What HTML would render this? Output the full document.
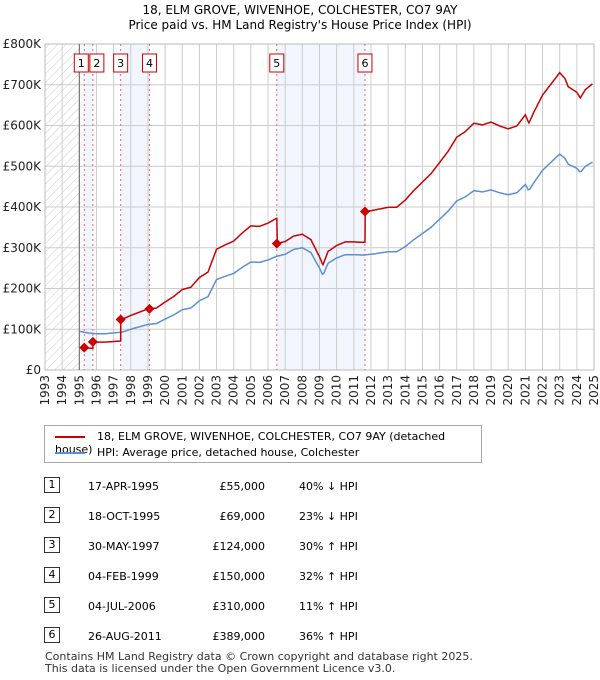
<!DOCTYPE html>
<html><head><meta charset="utf-8"><style>
body{margin:0;background:#fff;font-family:"DejaVu Sans","Liberation Sans",sans-serif;width:600px;height:680px;overflow:hidden;position:relative}
.t{position:absolute;font-size:12px;color:#000}
.row{position:absolute;left:0;width:600px;height:20px;font-size:11px}
.row span{position:absolute;top:3px}
.num{left:44px;width:14px;height:14px;border:1px solid #333;text-align:center;line-height:14px;top:0!important}
</style></head><body>
<div class="t" style="left:0;width:600px;text-align:center;top:3px;line-height:15px">18, ELM GROVE, WIVENHOE, COLCHESTER, CO7 9AY<br>Price paid vs. HM Land Registry's House Price Index (HPI)</div>
<svg id="c" width="600" height="420" style="position:absolute;left:0;top:0;font-family:'DejaVu Sans',sans-serif"></svg>
<div style="position:absolute;left:44px;top:425px;width:436px;height:36px;border:1px solid #aaa;font-size:11px">
<div style="position:absolute;left:10px;top:4px"><span style="display:inline-block;width:30px;border-top:2px solid #cc0000;vertical-align:middle;margin-right:12px"></span>18, ELM GROVE, WIVENHOE, COLCHESTER, CO7 9AY (detached house)</div>
<div style="position:absolute;left:10px;top:20px"><span style="display:inline-block;width:30px;border-top:2px solid #5a8fd6;vertical-align:middle;margin-right:12px"></span>HPI: Average price, detached house, Colchester</div>
</div>
<div id="tbl"></div>
<div class="t" style="left:45px;top:651px;font-size:11px;line-height:12px;color:#333">Contains HM Land Registry data © Crown copyright and database right 2025.<br>This data is licensed under the Open Government Licence v3.0.</div>
<script>
const hpiYears=[1995,1995.5,1996,1996.5,1997,1997.5,1998,1998.5,1999,1999.5,2000,2000.5,2001,2001.5,2002,2002.5,2003,2003.5,2004,2004.5,2005,2005.5,2006,2006.5,2007,2007.5,2008,2008.5,2009,2009.2,2009.5,2010,2010.5,2011,2011.5,2012,2012.5,2013,2013.5,2014,2014.5,2015,2015.5,2016,2016.5,2017,2017.5,2018,2018.5,2019,2019.5,2020,2020.5,2021,2021.2,2021.5,2022,2022.5,2023,2023.3,2023.5,2024,2024.2,2024.5,2024.9];
const hpiValues=[95,91,89,89,91,93,100,106,112,114,125,135,148,152,170,180,222,230,237,252,265,264,270,279,284,296,300,288,250,232,262,275,283,283,282,284,287,290,290,303,320,335,350,370,390,415,425,440,437,442,435,430,435,455,440,460,490,510,530,520,505,495,485,500,510];
const saleDates=[1995.29,1995.79,1997.41,1999.09,2006.51,2011.65];
const saleLabels=["17-APR-1995","18-OCT-1995","30-MAY-1997","04-FEB-1999","04-JUL-2006","26-AUG-2011"];
const salePrices=[55,69,124,150,310,389];
const hpiDiff=["40% ↓ HPI","23% ↓ HPI","30% ↑ HPI","32% ↑ HPI","11% ↑ HPI","36% ↑ HPI"];
const yTicks=[0,100,200,300,400,500,600,700,800];
const X0=45,X1=594,Y0=370,Y1=44;
const xs=y=>X0+(y-1993)/32*(X1-X0);
const ys=v=>Y0-v/800*(Y0-Y1);
const hpiAt=t=>{if(t<=hpiYears[0])return hpiValues[0];for(let i=1;i<hpiYears.length;i++){if(t<=hpiYears[i]){const f=(t-hpiYears[i-1])/(hpiYears[i]-hpiYears[i-1]);return hpiValues[i-1]+f*(hpiValues[i]-hpiValues[i-1]);}}return hpiValues[hpiValues.length-1];};
const svg=document.getElementById('c');const NS="http://www.w3.org/2000/svg";
function mk(tag,at,name){const e=document.createElementNS(NS,tag);for(const k in at)e.setAttribute(k,at[k]);


svg.appendChild(e);return e;}
const defs=document.createElementNS(NS,'defs');defs.innerHTML='<pattern id="h" width="6" height="6" patternUnits="userSpaceOnUse" patternTransform="rotate(45)"><line x1="0" y1="0" x2="0" y2="6" stroke="#ccc" stroke-width="1"/></pattern>';svg.appendChild(defs);
mk('rect',{x:X0,y:Y1,width:xs(1995)-X0,height:Y0-Y1,fill:'url(#h)'},'pre-data-hatch');
for(let i=0;i<6;i+=2)mk('rect',{x:xs(saleDates[i]),y:Y1,width:xs(saleDates[i+1])-xs(saleDates[i]),height:Y0-Y1,fill:'#eef3fd',opacity:0.8},'sale-period-shade');
for(let y=1993;y<=2025;y++){mk('line',{x1:xs(y),x2:xs(y),y1:Y1,y2:Y0,stroke:'#ccc'},'x-gridline');
const t=mk('text',{x:0,y:0,transform:`translate(${xs(y)+4},${Y0+5}) rotate(-90)`,'text-anchor':'end','font-size':12,fill:'#222'},'x-tick-label');t.textContent=y;}
yTicks.forEach(v=>{mk('line',{x1:X0,x2:X1,y1:ys(v),y2:ys(v),stroke:'#ccc'},'y-gridline');
const t=mk('text',{x:X0-4,y:ys(v)+4,'text-anchor':'end','font-size':12,fill:'#222'},'y-tick-label');t.textContent=v==0?'£0':'£'+v+'K';});
mk('rect',{x:X0,y:Y1,width:X1-X0,height:Y0-Y1,fill:'none',stroke:'#bbb'},'plot-border');
mk('line',{x1:xs(1995),x2:xs(1995),y1:Y1,y2:Y0,stroke:'#666'},'data-start-line');
saleDates.forEach(d=>mk('line',{x1:xs(d),x2:xs(d),y1:Y1,y2:Y0,stroke:'#e66','stroke-dasharray':'2,3'},'sale-marker-line'));
let hp=[];for(let t=1995;t<=2024.95;t+=1/12)hp.push(xs(t).toFixed(1)+','+ys(hpiAt(t)).toFixed(1));
mk('polyline',{points:hp.join(' '),fill:'none',stroke:'#5a8fd6','stroke-width':1.5},'hpi-line');
let rp=[];for(let t=saleDates[0];t<=2024.95;t+=1/24){let k=0;for(let i=0;i<6;i++)if(t>=saleDates[i])k=i;
if(k>0&&t-saleDates[k]<1/24){const pr=salePrices[k-1]/hpiAt(saleDates[k-1]);rp.push(xs(saleDates[k]).toFixed(1)+','+ys(hpiAt(saleDates[k])*pr).toFixed(1));}
const r=salePrices[k]/hpiAt(saleDates[k]);rp.push(xs(t).toFixed(1)+','+ys(hpiAt(t)*r).toFixed(1));}
mk('polyline',{points:rp.join(' '),fill:'none',stroke:'#cc0000','stroke-width':1.5},'property-price-line');
saleDates.forEach((d,i)=>{const x=xs(d),y=ys(salePrices[i]);mk('path',{d:`M${x},${y-5}L${x+5},${y}L${x},${y+5}L${x-5},${y}Z`,fill:'#cc0000'},'sale-point');
const bx=x-(i==0?9:i==1?2:6);mk('rect',{x:bx-1,y:54,width:14,height:18,fill:'#fff',stroke:'#cc0000'},'sale-label-box');
const t=mk('text',{x:bx+6,y:67,'text-anchor':'middle','font-size':11,fill:'#000'},'sale-label');t.textContent=i+1;});
const tb=document.getElementById('tbl');const rowsY=[477,507,537,567,597,627];
saleDates.forEach((d,i)=>{const r=document.createElement('div');r.className='row';r.style.top=rowsY[i]+'px';


r.innerHTML=`<span class="num">${i+1}</span><span style="left:88px">${saleLabels[i]}</span><span style="left:185px;width:80px;text-align:right">£${salePrices[i].toLocaleString('en-GB')},000</span><span style="left:299px">${hpiDiff[i]}</span>`;tb.appendChild(r);});
</script>
</body></html>
